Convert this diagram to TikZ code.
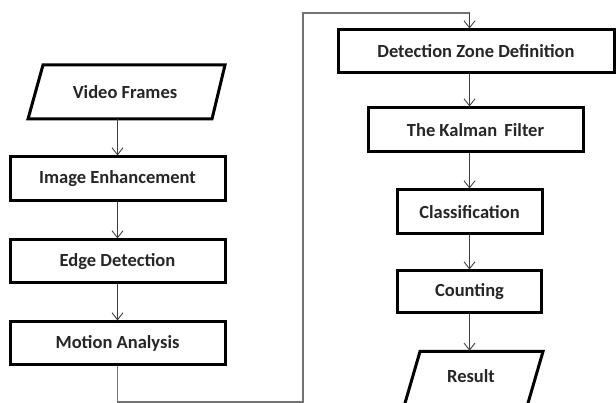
\documentclass[tikz,border=0pt]{standalone}
\usepackage{fontspec}
\setmainfont{Carlito}
\usetikzlibrary{arrows.meta,calc}
\tikzset{
  procbox/.style={draw=black, line width=3pt, rectangle, inner sep=0pt, font=\fontsize{18.5}{22}\selectfont\bfseries, text=black!85},
  iotext/.style={inner sep=0pt, font=\fontsize{18.5}{22}\selectfont\bfseries, text=black!85},
  iobox/.style={draw=black, line width=3pt, line join=miter},
  flow/.style={draw=black!75, line width=1pt, -{Straight Barb[length=7pt,width=11pt,line width=0.9pt]}},
  loopline/.style={draw=black!55, line width=1.1pt}
}
\begin{document}
\begin{tikzpicture}[x=1pt,y=-1pt]
\useasboundingbox (0,0) rectangle (616,403);
\fill[white] (0,0) rectangle (616,403);
\begin{scope}
\clip (0,0) rectangle (616,403);
% left column
\draw[iobox] (43,65) -- (225,65) -- (212,119) -- (28,119) -- cycle;
\node[iotext, minimum height=54pt] (vf) at (125,92) {Video Frames};
\node[procbox, minimum width=215pt, minimum height=44pt] (ie) at (117.5,179) {Image Enhancement};
\node[procbox, minimum width=215pt, minimum height=43pt] (ed) at (117.5,261.5) {Edge Detection};
\node[procbox, minimum width=215pt, minimum height=43pt] (ma) at (117.5,343.5) {Motion Analysis};

% right column
\node[procbox, minimum width=276pt, minimum height=43pt] (dzd) at (476,51.5) {Detection Zone Definition};
\node[procbox, minimum width=215pt, minimum height=44pt] (kf) at (475.5,130) {The Kalman\, Filter};
\node[procbox, minimum width=145pt, minimum height=44pt] (cl) at (469.5,212) {Classification};
\node[procbox, minimum width=144pt, minimum height=42pt] (co) at (469.5,292) {Counting};
\draw[iobox] (403,410) -- (420,351.5) -- (543,351.5) -- (526,410);
\node[iotext, minimum height=50pt] (res) at (471,376) {Result};

% connectors
\coordinate (lx) at (117.5,0);
\coordinate (rx) at (469.5,0);
\draw[flow] (vf.south -| lx) -- (ie.north);
\draw[flow] (ie.south) -- (ed.north);
\draw[flow] (ed.south) -- (ma.north);
\coordinate (b1) at (117.5,402);
\coordinate (b2) at (303,402);
\coordinate (t1) at (303,13);
\coordinate (t2) at (469.5,13);
\draw[loopline] (ma.south) -- (b1) -- (b2) -- (t1) -- (t2);
\draw[flow] (t2) -- (dzd.north -| rx);
\draw[flow] (dzd.south -| rx) -- (kf.north -| rx);
\draw[flow] (kf.south -| rx) -- (cl.north);
\draw[flow] (cl.south) -- (co.north);
\draw[flow] (co.south) -- (co.south |- res.north);
\end{scope}
\end{tikzpicture}
\end{document}
